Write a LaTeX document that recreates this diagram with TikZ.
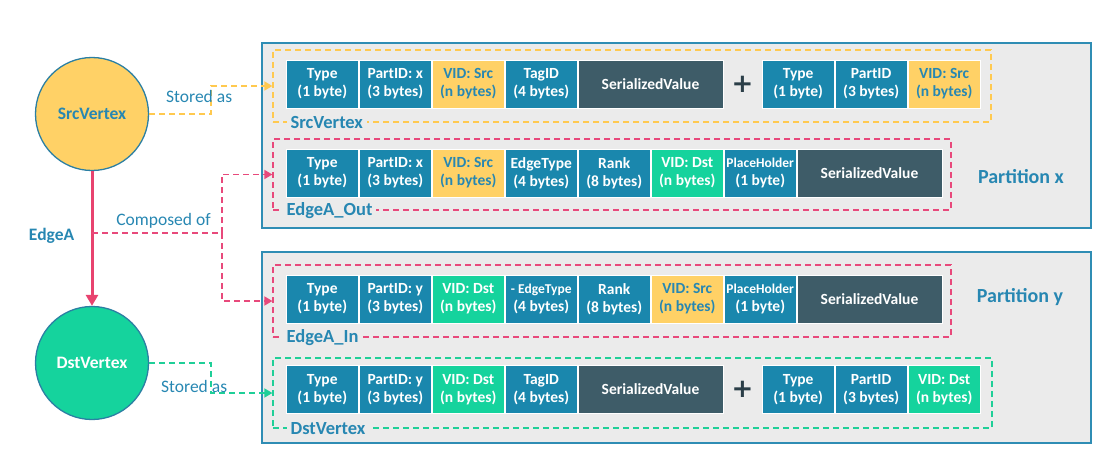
\documentclass[tikz,border=0pt]{standalone}
\usepackage{fontspec}
\setmainfont{Carlito}
\newfontfamily\plusfont{DejaVu Sans}
\usetikzlibrary{positioning, calc, arrows.meta}
\definecolor{cellblue}{HTML}{1A87AD}
\definecolor{vyellow}{HTML}{FFD166}
\definecolor{vgreen}{HTML}{15D39D}
\definecolor{valgrey}{HTML}{3E5C68}
\definecolor{labelblue}{HTML}{2787B2}
\definecolor{edgered}{HTML}{E8436F}
\definecolor{dashred}{HTML}{E8497B}
\definecolor{dashyellow}{HTML}{FFC94F}
\definecolor{dashgreen}{HTML}{1FCF98}
\definecolor{bggrey}{HTML}{EBEBEB}
\definecolor{partblue}{HTML}{2F8DB4}
\definecolor{vborder}{HTML}{2B7FA3}
\definecolor{plusdark}{HTML}{2B3E48}
\newcommand{\cellfont}{\fontsize{15.5}{18}\selectfont\bfseries}
\newcommand{\smallcellfont}{\fontsize{13.5}{18}\selectfont\bfseries}
\tikzstyle{partition} = [rectangle, draw=partblue, line width=1.6pt, fill=bggrey, minimum width=829pt]
\tikzstyle{cell} = [rectangle, minimum width=72.5pt, minimum height=48pt, inner sep=0pt, align=center, draw=white, line width=0.5pt, fill=cellblue, text=white, font=\cellfont]
\tikzstyle{srcid} = [cell, fill=vyellow, text=labelblue]
\tikzstyle{dstid} = [cell, fill=vgreen]
\tikzstyle{value} = [cell, minimum width=145pt, fill=valgrey]
\tikzstyle{plusmark} = [minimum width=38pt, inner sep=0pt, text=plusdark, font=\plusfont\fontsize{26}{26}\selectfont\bfseries]
\tikzstyle{dashbox} = [rectangle, dash pattern=on 6pt off 4pt, line width=1.2pt]
\tikzstyle{boxlabel} = [fill=bggrey, inner xsep=4pt, inner ysep=1pt, text=labelblue, font=\fontsize{18.5}{18.5}\selectfont\bfseries, anchor=west]
\tikzstyle{partlabel} = [text=labelblue, font=\fontsize{20}{20}\selectfont\bfseries]
\tikzstyle{vertex} = [circle, minimum size=113pt, draw=vborder, line width=1.3pt, font=\fontsize{17.5}{17.5}\selectfont\bfseries]
\tikzstyle{conn} = [dash pattern=on 6pt off 4pt, line width=1.6pt, -{Triangle[length=8pt,width=9pt]}]
\tikzstyle{connlabel} = [text=labelblue, font=\fontsize{17.5}{17.5}\selectfont]
\tikzstyle{edge} = [draw=edgered, line width=3pt, -{Triangle[length=11pt,width=12pt]}]

\begin{document}
\begin{tikzpicture}[x=1pt, y=-1pt]
	\useasboundingbox (0,0) rectangle (1107,463);
	% partitions
	\node (partx) [partition, minimum height=185pt] at (676.5,135.5) {};
	\node (party) [partition, minimum height=191pt] at (676.5,347.5) {};
	\node (xlabel) [partlabel] at (1021,177) {Partition x};
	\node (ylabel) [partlabel] at (1020,297) {Partition y};
	% dashed groups
	\node (srcbox) [dashbox, draw=dashyellow, minimum width=718pt, minimum height=72pt] at (632,86) {};
	\node (outbox) [dashbox, draw=dashred, minimum width=678pt, minimum height=71pt] at (612,174.5) {};
	\node (inbox) [dashbox, draw=dashred, minimum width=678pt, minimum height=72pt] at (612,301) {};
	\node (dstbox) [dashbox, draw=dashgreen, minimum width=719pt, minimum height=70pt] at (632.5,393) {};
	% SrcVertex key
	\node (s1) [cell] at (322.25,84) {Type\\(1 byte)};
	\node (s2) [cell, right=0pt of s1] {PartID: x\\(3 bytes)};
	\node (s3) [srcid, right=0pt of s2] {VID: Src\\(n bytes)};
	\node (s4) [cell, right=0pt of s3] {TagID\\(4 bytes)};
	\node (s5) [value, right=0pt of s4] {SerializedValue};
	\node (s6) [plusmark, right=0pt of s5] {+};
	\node (s7) [cell, right=0pt of s6] {Type\\(1 byte)};
	\node (s8) [cell, right=0pt of s7] {PartID\\(3 bytes)};
	\node (s9) [srcid, right=0pt of s8] {VID: Src\\(n bytes)};
	% EdgeA_Out key
	\node (o1) [cell] at (322.25,173) {Type\\(1 byte)};
	\node (o2) [cell, right=0pt of o1] {PartID: x\\(3 bytes)};
	\node (o3) [srcid, right=0pt of o2] {VID: Src\\(n bytes)};
	\node (o4) [cell, right=0pt of o3] {EdgeType\\(4 bytes)};
	\node (o5) [cell, right=0pt of o4] {Rank\\(8 bytes)};
	\node (o6) [dstid, right=0pt of o5] {VID: Dst\\(n bytes)};
	\node (o7) [cell, right=0pt of o6] {{\smallcellfont PlaceHolder}\\(1 byte)};
	\node (o8) [value, right=0pt of o7] {SerializedValue};
	% EdgeA_In key
	\node (i1) [cell] at (322.25,299) {Type\\(1 byte)};
	\node (i2) [cell, right=0pt of i1] {PartID: y\\(3 bytes)};
	\node (i3) [dstid, right=0pt of i2] {VID: Dst\\(n bytes)};
	\node (i4) [cell, right=0pt of i3] {{\smallcellfont - EdgeType}\\(4 bytes)};
	\node (i5) [cell, right=0pt of i4] {Rank\\(8 bytes)};
	\node (i6) [srcid, right=0pt of i5] {VID: Src\\(n bytes)};
	\node (i7) [cell, right=0pt of i6] {{\smallcellfont PlaceHolder}\\(1 byte)};
	\node (i8) [value, right=0pt of i7] {SerializedValue};
	% DstVertex key
	\node (d1) [cell] at (322.25,389.5) {Type\\(1 byte)};
	\node (d2) [cell, right=0pt of d1] {PartID: y\\(3 bytes)};
	\node (d3) [dstid, right=0pt of d2] {VID: Dst\\(n bytes)};
	\node (d4) [cell, right=0pt of d3] {TagID\\(4 bytes)};
	\node (d5) [value, right=0pt of d4] {SerializedValue};
	\node (d6) [plusmark, right=0pt of d5] {+};
	\node (d7) [cell, right=0pt of d6] {Type\\(1 byte)};
	\node (d8) [cell, right=0pt of d7] {PartID\\(3 bytes)};
	\node (d9) [dstid, right=0pt of d8] {VID: Dst\\(n bytes)};
	% group labels
	\node (srclab) [boxlabel] at ($(srcbox.south west)+(14,0)$) {SrcVertex};
	\node (outlab) [boxlabel] at ($(outbox.south west)+(10,0)$) {EdgeA\_Out};
	\node (inlab) [boxlabel] at ($(inbox.south west)+(10,0)$) {EdgeA\_In};
	\node (dstlab) [boxlabel] at ($(dstbox.south west)+(14,0)$) {DstVertex};
	% vertices
	\node (src) [vertex, fill=vyellow, text=labelblue] at (92,114) {SrcVertex};
	\node (dst) [vertex, fill=vgreen, text=white] at (92,363) {DstVertex};
	%lines
	\draw [edge] (src) -- node[left=13pt, yshift=3pt, text=labelblue, font=\fontsize{17.5}{17.5}\selectfont\bfseries] {EdgeA} (dst);
	\coordinate (ecomp) at ($(src.south)!0.46!(dst.north)$);
	\draw [conn, draw=dashyellow, dashyellow] (src.east) -- ++(62,0) |- node[connlabel, pos=0.25, xshift=-12pt, yshift=4pt] {Stored as} (srcbox.west);
	\draw [dash pattern=on 6pt off 4pt, line width=1.6pt, dashred] (ecomp) -- node[connlabel, pos=0.55, above=1pt] {Composed of} ++(130,0) coordinate (split);
	\draw [conn, draw=dashred, dashred] (split) |- (outbox.west);
	\draw [conn, draw=dashred, dashred] (split) |- (inbox.west);
	\draw [conn, draw=dashgreen, dashgreen] (dst.east) -- ++(62,0) |- node[connlabel, pos=0.25, xshift=-17pt, yshift=-8pt] {Stored as} (dstbox.west);
\end{tikzpicture}
\end{document}
